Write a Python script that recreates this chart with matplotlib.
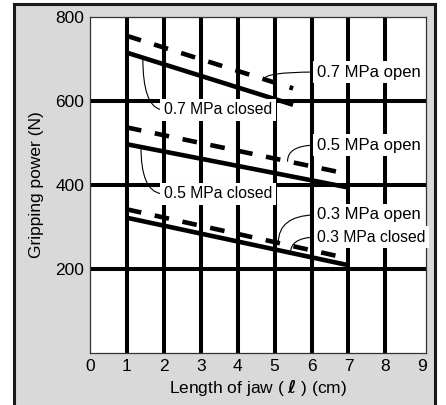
import matplotlib
matplotlib.use('Agg')
import matplotlib.pyplot as plt
from matplotlib.patches import Rectangle
import numpy as np

plt.rcParams['font.family'] = ['Liberation Sans', 'DejaVu Sans']

# jaw length (cm) at the ends of each line
x_07 = [1, 5.5]
x_05 = [1, 7]
x_03 = [1, 7]

# gripping power (N)
open_07 = [755, 630]
closed_07 = [715, 591]
open_05 = [537, 426]
closed_05 = [497, 394]
open_03 = [342, 225]
closed_03 = [322, 209]

xticks = [0, 1, 2, 3, 4, 5, 6, 7, 8, 9]
yticks = [200, 400, 600, 800]
grid_x = [1, 2, 3, 4, 5, 6, 7, 8]
grid_y = [200, 400, 600]

# label text, anchor x on its line, text position, size
labels = [
    ('0.7 MPa closed', x_07, closed_07, 1.43, (2.0, 579), 11.3),
    ('0.7 MPa open', x_07, open_07, 4.72, (6.14, 669), 12),
    ('0.5 MPa open', x_05, open_05, 5.35, (6.14, 495), 12),
    ('0.5 MPa closed', x_05, closed_05, 1.38, (2.0, 379), 11.3),
    ('0.3 MPa open', x_03, open_03, 5.1, (6.16, 329), 12),
    ('0.3 MPa closed', x_03, closed_03, 5.43, (6.16, 276), 11.3),
]

fig = plt.figure(figsize=(4.46, 4.05), dpi=100)
fig.patch.set_facecolor('white')
fig.patches.append(Rectangle((14 / 446, -0.05), (435 - 14) / 446, 1.05 - 4 / 405,
                             transform=fig.transFigure, facecolor='#d9d9d9',
                             edgecolor='#1a1a1a', linewidth=2.2, zorder=-5))

ax = fig.add_axes([90 / 446, 1 - 353 / 405, (426 - 90) / 446, (353 - 17) / 405])
ax.set_zorder(2)
ax.set_facecolor('white')

for gx in grid_x:
    ax.axvline(gx, color='black', lw=2.9, zorder=1)
for gy in grid_y:
    ax.axhline(gy, color='black', lw=2.9, zorder=1)

ax.plot(x_07, closed_07, color='black', lw=3.3, solid_capstyle='butt', zorder=3)
ax.plot(x_07, open_07, color='black', lw=3.3, dashes=(3.2, 3.0), zorder=3)
ax.plot(x_05, closed_05, color='black', lw=3.3, solid_capstyle='butt', zorder=3)
ax.plot(x_05, open_05, color='black', lw=3.3, dashes=(3.2, 3.0), zorder=3)
ax.plot(x_03, closed_03, color='black', lw=3.3, solid_capstyle='butt', zorder=3)
ax.plot(x_03, open_03, color='black', lw=3.3, dashes=(3.2, 3.0), zorder=3)

for txt, xs, ys, ax_x, pos, fs in labels:
    ay = np.interp(ax_x, xs, ys)
    ax.annotate(txt, xy=(ax_x, ay), xytext=pos, ha='left', va='center',
                fontsize=fs, zorder=4,
                bbox=dict(facecolor='white', edgecolor='none', pad=2.5),
                arrowprops=dict(arrowstyle='-', lw=0.8, color='black',
                                relpos=(0, 0.5), shrinkA=0, shrinkB=0,
                                connectionstyle='angle3,angleA=0,angleB=90'))

ax.set_xlim(0, 9.1)
ax.set_ylim(0, 800)
ax.set_xticks(xticks)
ax.set_yticks(yticks)
ax.tick_params(length=0, labelsize=12.5, pad=4)
for s in ax.spines.values():
    s.set_linewidth(0.9)
    s.set_color('#333333')

ax.set_xlabel('Length of jaw ( $\\mathbf{\\ell}$ ) (cm)', fontsize=12.5, labelpad=3)
ax.set_ylabel('Gripping power (N)', fontsize=12.5, labelpad=8)

fig.savefig('out.png', dpi=100)
